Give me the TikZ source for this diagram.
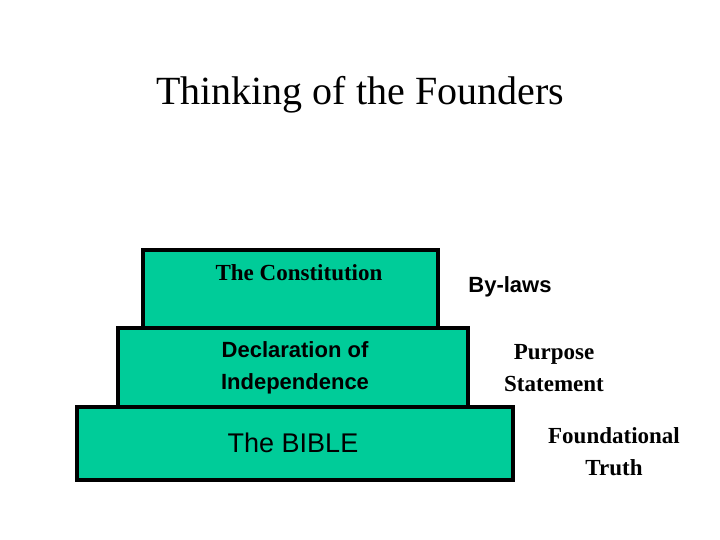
\documentclass[tikz,border=0pt]{standalone}
\usepackage{fontspec}
\setmainfont{Liberation Serif}
\newfontfamily\arial{Liberation Sans}
\definecolor{grn}{RGB}{0,204,153}
\begin{document}
\begin{tikzpicture}[x=1pt,y=-1pt,
  step box/.style={draw=black,line width=4pt,fill=grn},
  lbl/.style={align=center,font=\bfseries\fontsize{23}{32}\selectfont}]
\useasboundingbox (0,0) rectangle (720,540);
\node (title) at (360,95) {\fontsize{40}{44}\selectfont Thinking of the Founders};
\path[step box] (77,407) rectangle (513,480) coordinate (b);
\path[step box] (118,328) rectangle (468,407) coordinate (m);
\path[step box] (143,250) rectangle (438,328) coordinate (t);
\node[lbl] (c) at (299,273) {The Constitution};
\node[lbl,font=\arial\bfseries\fontsize{22}{32}\selectfont] (d) at (295,368) {Declaration of\\Independence};
\node[font=\arial\fontsize{27}{30}\selectfont] (bib) at (293,443) {The BIBLE};
\node[lbl,font=\arial\bfseries\fontsize{22}{30}\selectfont] (by) at (510,287) {By-laws};
\node[lbl] (p) at (554,368) {Purpose\\Statement};
\node[lbl] (f) at (614,452) {Foundational\\Truth};
\end{tikzpicture}
\end{document}
